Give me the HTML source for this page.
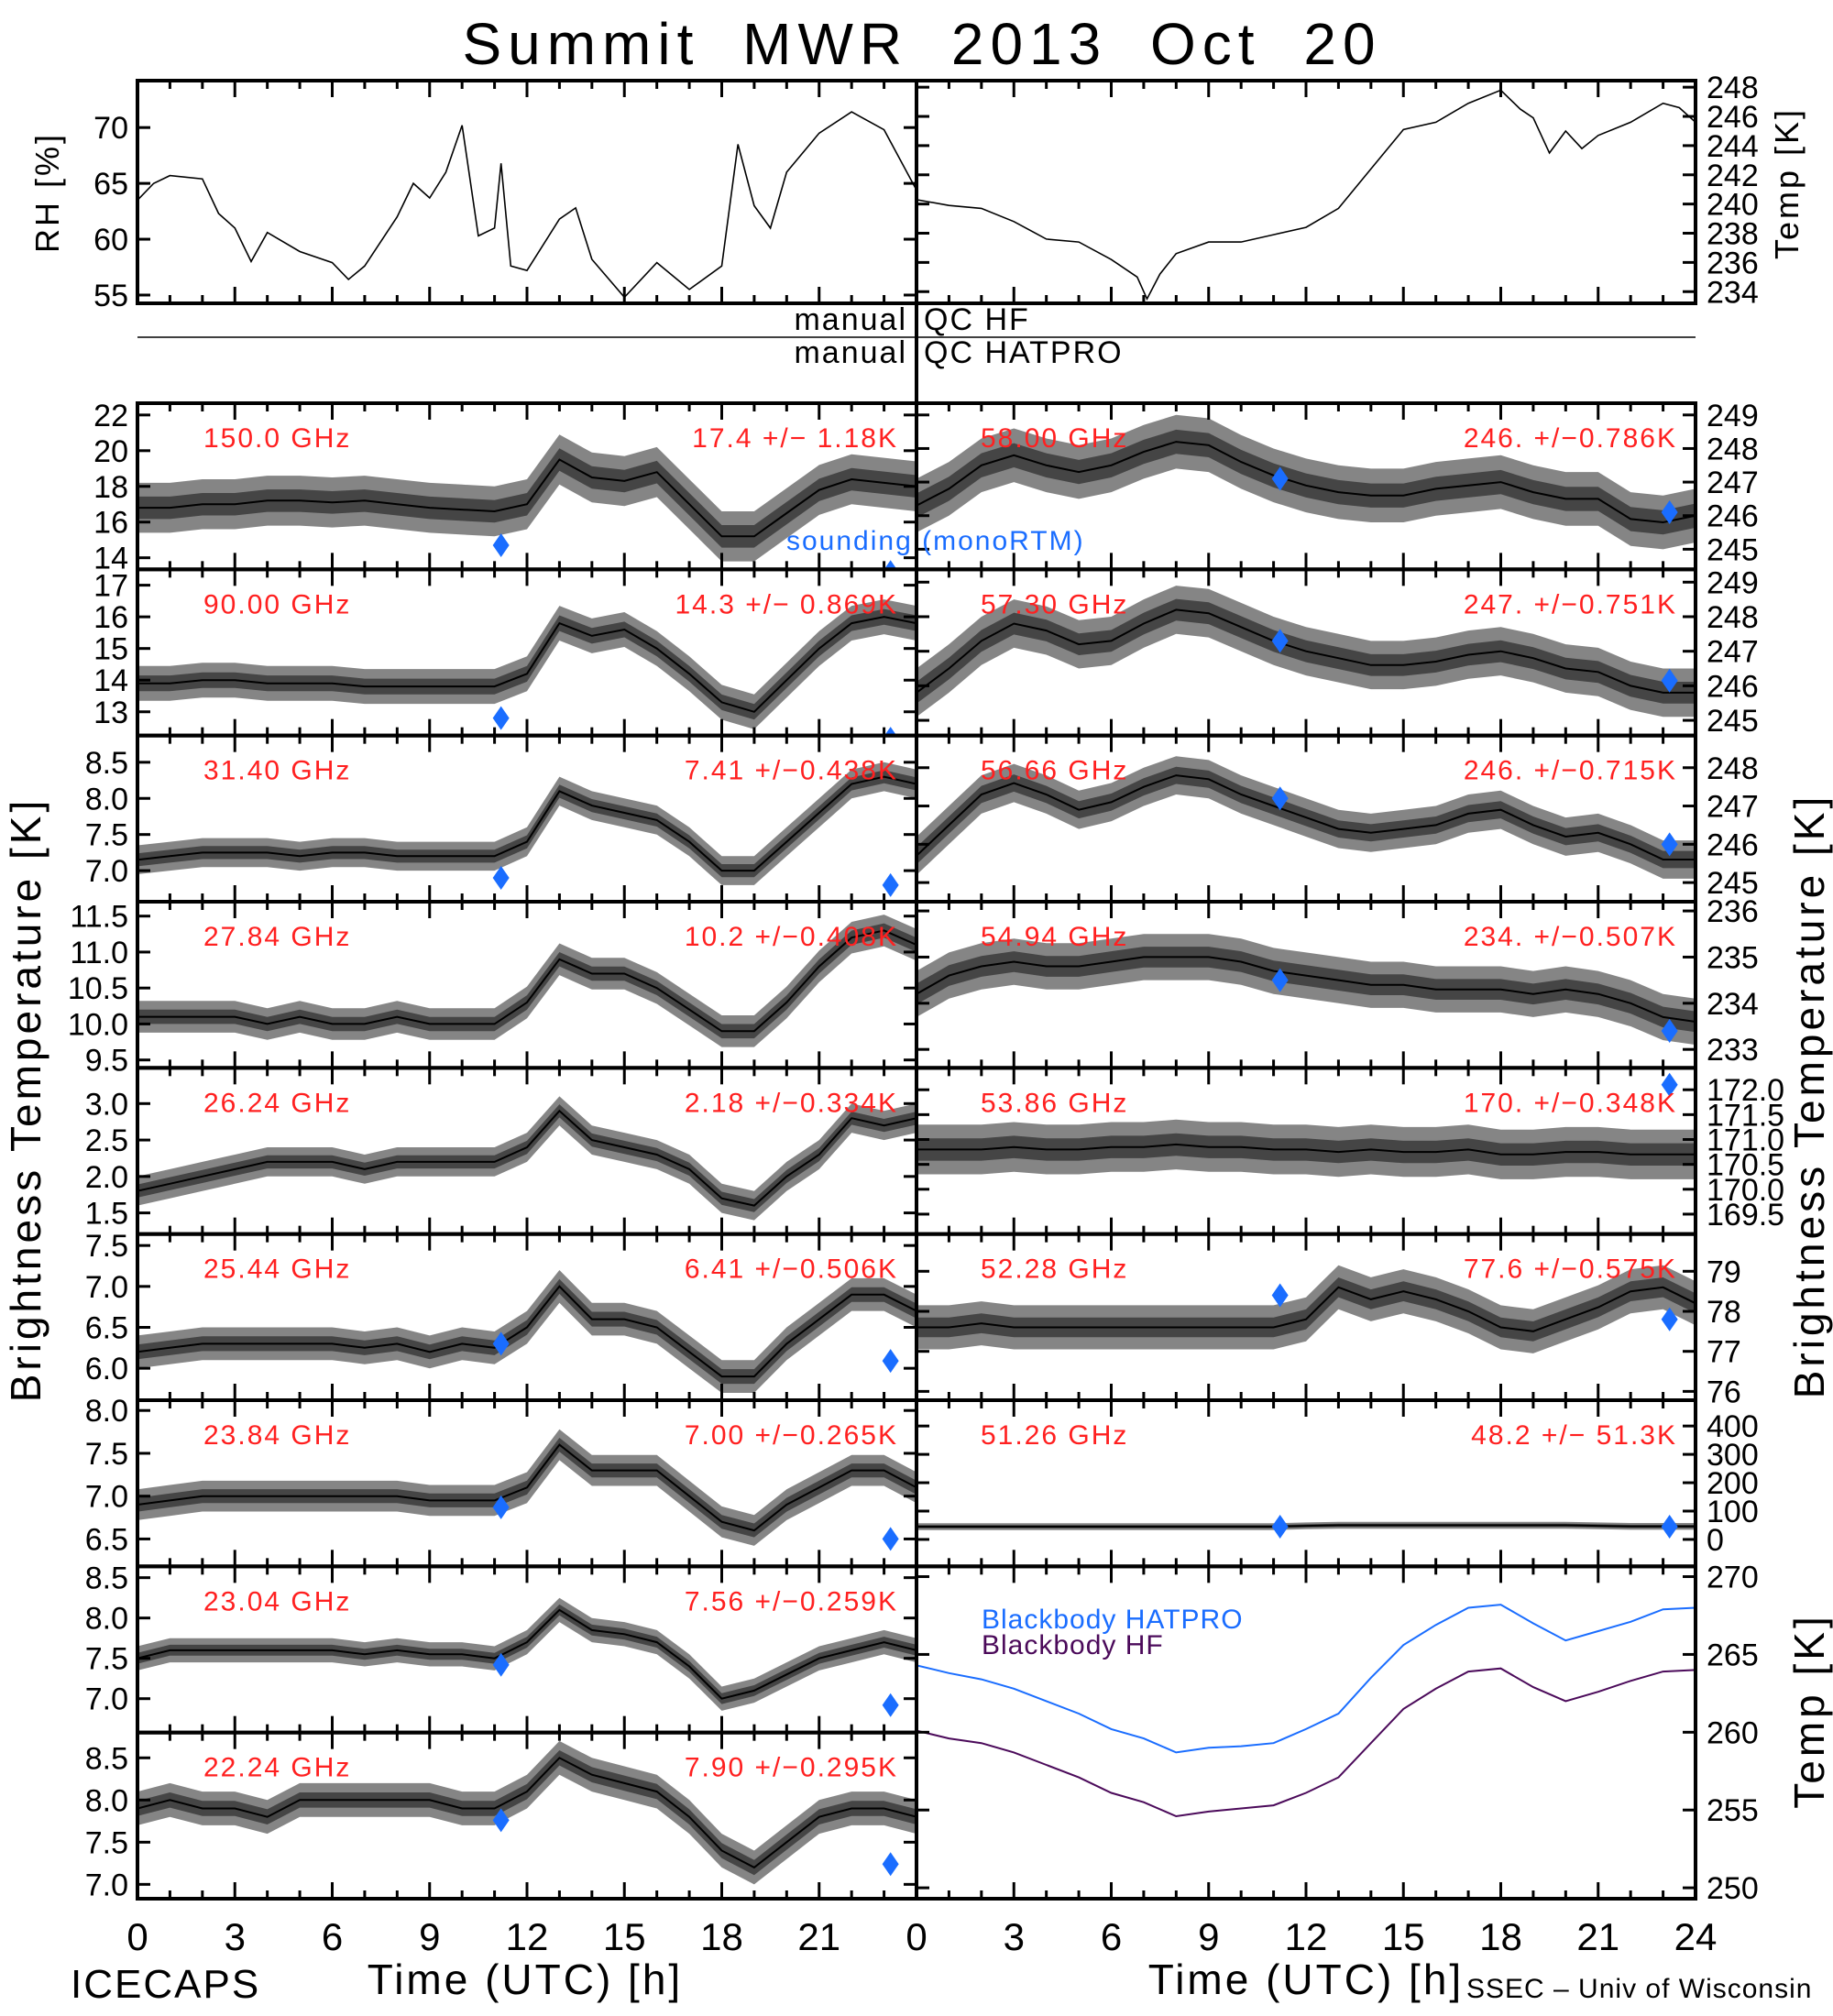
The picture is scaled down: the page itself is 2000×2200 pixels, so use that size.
<!DOCTYPE html>
<html><head><meta charset="utf-8"><style>
html,body{margin:0;padding:0;background:#fff;}
svg{display:block;font-family:"Liberation Sans Narrow","Liberation Sans",sans-serif;}
</style></head><body>
<svg id="chart" width="2000" height="2200" viewBox="0 0 2000 2200" xmlns="http://www.w3.org/2000/svg">
<text x="1006" y="70" font-size="64" text-anchor="middle" letter-spacing="7" word-spacing="22">Summit MWR 2013 Oct 20</text>
<g id="layer"></g>
<line x1="150" x2="1850" y1="368" y2="368" stroke="#000" stroke-width="1.5"/>
<line x1="1000" x2="1000" y1="88" y2="2072" stroke="#000" stroke-width="4"/>
<text x="990" y="360" font-size="34" text-anchor="end" letter-spacing="2">manual</text>
<text x="1008" y="360" font-size="34" letter-spacing="2">QC  HF</text>
<text x="990" y="396" font-size="34" text-anchor="end" letter-spacing="2">manual</text>
<text x="1008" y="396" font-size="34" letter-spacing="2">QC  HATPRO</text>
<text transform="translate(64,210) rotate(-90)" font-size="36" text-anchor="middle" letter-spacing="3">RH  [%]</text>
<text transform="translate(1962,200) rotate(-90)" font-size="36" text-anchor="middle" letter-spacing="3">Temp  [K]</text>
<text transform="translate(44,1200) rotate(-90)" font-size="46" text-anchor="middle" letter-spacing="4">Brightness  Temperature  [K]</text>
<text transform="translate(1990,1196) rotate(-90)" font-size="46" text-anchor="middle" letter-spacing="4">Brightness  Temperature  [K]</text>
<text transform="translate(1990,1867) rotate(-90)" font-size="46" text-anchor="middle" letter-spacing="4">Temp  [K]</text>
<text x="858" y="600" font-size="30" fill="#1a6dff" letter-spacing="2">sounding  (monoRTM)</text>
<text x="1071" y="1777" font-size="30" fill="#1a6dff" letter-spacing="1">Blackbody  HATPRO</text>
<text x="1071" y="1805" font-size="30" fill="#4b0a5a" letter-spacing="1">Blackbody  HF</text>
<text x="573" y="2176" font-size="46" text-anchor="middle" letter-spacing="3">Time  (UTC)  [h]</text>
<text x="1425" y="2176" font-size="46" text-anchor="middle" letter-spacing="3">Time  (UTC)  [h]</text>
<text x="77" y="2180" font-size="44" letter-spacing="2">ICECAPS</text>
<text x="1600" y="2180" font-size="30" letter-spacing="1">SSEC  –  Univ  of  Wisconsin</text>
</svg>
<script>
// ---- data ----
const hours = [0,1,2,3,4,5,6,7,8,9,10,11,12,13,14,15,16,17,18,19,20,21,22,23,24];
const rhTimes = [0,0.5,1,2,2.5,3,3.5,4,5,6,6.5,7,8,8.5,9,9.5,10,10.5,11,11.2,11.5,12,13,13.5,14,15,16,17,18,18.5,19,19.5,20,21,22,23,24];
const rhValues = [63.5,65,65.7,65.4,62.3,61,58,60.6,58.9,57.9,56.4,57.6,62,65,63.7,66,70.2,60.3,61,66.8,57.6,57.2,61.8,62.8,58.2,54.8,57.9,55.5,57.6,68.5,63,61,66,69.5,71.4,69.8,64.4];
const tempTimes = [0,1,2,3,4,5,6,6.8,7.1,7.5,8,9,10,11,12,13,14,15,16,17,18,18.6,19,19.5,20,20.5,21,22,23,23.5,24];
const tempValues = [240.3,239.9,239.7,238.8,237.6,237.4,236.2,235,233.5,235.2,236.6,237.4,237.4,237.9,238.4,239.7,242.4,245.1,245.6,246.9,247.8,246.5,245.9,243.5,245,243.8,244.7,245.6,246.9,246.6,245.6];
const bbHatpro = [264.3,263.8,263.4,262.8,262.0,261.2,260.2,259.6,258.7,259.0,259.1,259.3,260.2,261.2,263.5,265.6,266.9,268.0,268.2,267.0,265.9,266.5,267.1,267.9,268.0];
const bbHF = [260.1,259.6,259.3,258.7,257.9,257.1,256.1,255.5,254.6,254.9,255.1,255.3,256.1,257.1,259.3,261.5,262.8,263.9,264.1,262.9,262.0,262.6,263.3,263.9,264.0];
const soundTimes = [11.2,23.2];

const leftFreqs = ["150.0 GHz","90.00 GHz","31.40 GHz","27.84 GHz","26.24 GHz","25.44 GHz","23.84 GHz","23.04 GHz","22.24 GHz"];
const leftStats = ["17.4 +/−  1.18K","14.3 +/− 0.869K","7.41 +/−0.438K","10.2 +/−0.408K","2.18 +/−0.334K","6.41 +/−0.506K","7.00 +/−0.265K","7.56 +/−0.259K","7.90 +/−0.295K"];
const leftRanges = [[13.35,22.66],[12.25,17.5],[6.57,8.87],[9.39,11.7],[1.21,3.49],[5.61,7.64],[6.18,8.12],[6.58,8.64],[6.83,8.8]];
const leftTicks = [[14,16,18,20,22],[13,14,15,16,17],[7.0,7.5,8.0,8.5],[9.5,10.0,10.5,11.0,11.5],[1.5,2.0,2.5,3.0],[6.0,6.5,7.0,7.5],[6.5,7.0,7.5,8.0],[7.0,7.5,8.0,8.5],[7.0,7.5,8.0,8.5]];
const leftDigits = [0,0,1,1,1,1,1,1,1];
const leftSpread = [1.4,0.55,0.2,0.22,0.2,0.2,0.18,0.15,0.2];
const ch150 = [16.8,16.8,17,17,17.2,17.2,17.1,17.2,17,16.8,16.7,16.6,17,19.5,18.5,18.3,18.8,17,15.2,15.2,16.5,17.8,18.4,18.2,18];
const ch90 = [13.9,13.9,14,14,13.9,13.9,13.9,13.8,13.8,13.8,13.8,13.8,14.2,15.8,15.4,15.6,15,14.2,13.3,13,14,15,15.8,16,15.8];
const ch3140 = [7.15,7.2,7.25,7.25,7.25,7.2,7.25,7.25,7.2,7.2,7.2,7.2,7.4,8.1,7.9,7.8,7.7,7.4,7.0,7.0,7.4,7.8,8.2,8.3,8.2];
const ch2784 = [10.1,10.1,10.1,10.1,10.0,10.1,10.0,10.0,10.1,10.0,10.0,10.0,10.3,10.9,10.7,10.7,10.5,10.2,9.9,9.9,10.3,10.8,11.2,11.3,11.1];
const ch2624 = [1.8,1.9,2.0,2.1,2.2,2.2,2.2,2.1,2.2,2.2,2.2,2.2,2.4,2.9,2.5,2.4,2.3,2.1,1.7,1.6,2.0,2.3,2.8,2.7,2.8];
const ch2544 = [6.2,6.25,6.3,6.3,6.3,6.3,6.3,6.25,6.3,6.2,6.3,6.25,6.5,7.0,6.6,6.6,6.5,6.2,5.9,5.9,6.3,6.6,6.9,6.9,6.7];
const ch2384 = [6.9,6.95,7.0,7.0,7.0,7.0,7.0,7.0,7.0,6.95,6.95,6.95,7.1,7.6,7.3,7.3,7.3,7.0,6.7,6.6,6.9,7.1,7.3,7.3,7.1];
const ch2304 = [7.5,7.6,7.6,7.6,7.6,7.6,7.6,7.55,7.6,7.55,7.55,7.5,7.7,8.1,7.85,7.8,7.7,7.4,7.0,7.1,7.3,7.5,7.6,7.7,7.6];
const ch2224 = [7.9,8.0,7.9,7.9,7.8,8.0,8.0,8.0,8.0,8.0,7.9,7.9,8.1,8.5,8.3,8.2,8.1,7.8,7.4,7.2,7.5,7.8,7.9,7.9,7.8];
const leftSeries = [ch150,ch90,ch3140,ch2784,ch2624,ch2544,ch2384,ch2304,ch2224];
const leftSound = [[14.7,13.2],[12.8,12.15],[6.9,6.8],[9.2,9.2],[1.0,1.0],[6.3,6.09],[6.87,6.5],[7.42,6.92],[7.76,7.24]];

const rightFreqs = ["58.00 GHz","57.30 GHz","56.66 GHz","54.94 GHz","53.86 GHz","52.28 GHz","51.26 GHz"];
const rightStats = ["246. +/−0.786K","247. +/−0.751K","246. +/−0.715K","234. +/−0.507K","170. +/−0.348K","77.6 +/−0.575K","48.2 +/−  51.3K"];
const rightRanges = [[244.4,249.35],[244.56,249.37],[244.5,248.84],[232.6,236.2],[169.1,172.44],[75.78,79.93],[-95,491]];
const rightTicks = [[245,246,247,248,249],[245,246,247,248,249],[245,246,247,248],[233,234,235,236],[169.5,170.0,170.5,171.0,171.5,172.0],[76,77,78,79],[0,100,200,300,400]];
const rightDigits = [0,0,0,0,1,0,0];
const rightSpread = [0.8,0.7,0.5,0.5,0.5,0.55,12];
const ch5800 = [246.3,246.8,247.5,247.8,247.5,247.3,247.5,247.9,248.2,248.1,247.6,247.2,246.9,246.7,246.6,246.6,246.8,246.9,247,246.7,246.5,246.5,245.9,245.8,246];
const ch5730 = [245.8,246.5,247.3,247.8,247.6,247.2,247.3,247.8,248.2,248.1,247.7,247.3,247,246.8,246.6,246.6,246.7,246.9,247,246.8,246.5,246.4,246,245.8,245.8];
const ch5666 = [245.7,246.5,247.3,247.6,247.3,246.9,247.1,247.5,247.8,247.7,247.3,247,246.7,246.4,246.3,246.4,246.5,246.8,246.9,246.5,246.2,246.3,246,245.6,245.6];
const ch5494 = [234.2,234.6,234.8,234.9,234.8,234.8,234.9,235.0,235.0,235.0,234.9,234.7,234.6,234.5,234.4,234.4,234.3,234.3,234.3,234.2,234.3,234.2,234.0,233.7,233.6];
const ch5386 = [170.8,170.8,170.8,170.85,170.8,170.8,170.85,170.85,170.9,170.85,170.85,170.8,170.8,170.75,170.8,170.75,170.75,170.8,170.7,170.7,170.75,170.75,170.7,170.7,170.7];
const ch5228 = [77.6,77.6,77.7,77.6,77.6,77.6,77.6,77.6,77.6,77.6,77.6,77.6,77.8,78.6,78.3,78.5,78.3,78.0,77.6,77.5,77.8,78.1,78.5,78.6,78.2];
const ch5126 = [45,45,45,45,45,45,45,45,45,45,45,45,48,50,50,50,50,50,50,50,50,48,46,46,46];
const rightSeries = [ch5800,ch5730,ch5666,ch5494,ch5386,ch5228,ch5126];
const rightSound = [[247.1,246.1],[247.3,246.15],[247.2,246.0],[234.5,233.4],[168.0,172.1],[78.4,77.8],[45,45]];
const bbTicks = [250,255,260,265,270];
const rhTicks = [55,60,65,70];
const tempTicks = [234,236,238,240,242,244,246,248];

// ---- layout ----
const NS = "http://www.w3.org/2000/svg";
const layer = document.getElementById('layer');
const LX0 = 150, LX1 = 1000, RX0 = 1000, RX1 = 1850;
const PT = 440, PH = (2072 - 440) / 9;
let clipId = 0;
function mk(tag, attrs, parent) {
  const e = document.createElementNS(NS, tag);
  for (const k in attrs) e.setAttribute(k, attrs[k]);
  (parent || layer).appendChild(e);
  return e;
}
function xScale(x0, x1) { return h => x0 + h / 24 * (x1 - x0); }
function yScale(y0, y1, lo, hi) { return v => y1 - (v - lo) / (hi - lo) * (y1 - y0); }

function frame(g, x0, x1, y0, y1, ticks, ys, labelSide, digits) {
  for (let h = 0; h <= 24; h++) {
    const X = x0 + h / 24 * (x1 - x0);
    const L = h % 3 === 0 ? 18 : 9;
    const t1 = mk('line', {x1: X, x2: X, y1: y1, y2: y1 - L, stroke: '#000', 'stroke-width': 3}, g);
    
    
    const t2 = mk('line', {x1: X, x2: X, y1: y0, y2: y0 + L, stroke: '#000', 'stroke-width': 3}, g);
    
    
  }
  ticks.forEach(v => {
    const Y = ys(v);
    const a = mk('line', {x1: x0, x2: x0 + 14, y1: Y, y2: Y, stroke: '#000', 'stroke-width': 3}, g);
    
    
    const b = mk('line', {x1: x1, x2: x1 - 14, y1: Y, y2: Y, stroke: '#000', 'stroke-width': 3}, g);
    
    
    if (labelSide) {
      const tx = mk('text', {x: labelSide === 'left' ? x0 - 10 : x1 + 12, y: Y + 12, 'font-size': 34,
        'text-anchor': labelSide === 'left' ? 'end' : 'start'}, g);
      
      
      tx.textContent = v.toFixed(digits);
    }
  });
  const r = mk('rect', {x: x0, y: y0, width: x1 - x0, height: y1 - y0, fill: 'none', stroke: '#000', 'stroke-width': 4}, g);
  
  
}
function clipFor(g, x0, x1, y0, y1) {
  const id = 'c' + (clipId++);
  const cp = mk('clipPath', {id: id}, g);
  mk('rect', {x: x0, y: y0, width: x1 - x0, height: y1 - y0}, cp);
  return mk('g', {'clip-path': 'url(#' + id + ')'}, g);
}
function linePath(ts, vs, xs, ys) {
  return ts.map((t, i) => (i ? 'L' : 'M') + xs(t).toFixed(1) + ',' + ys(vs[i]).toFixed(1)).join('');
}
function channel(name, x0, x1, y0, y1, range, ticks, digits, series, spread, sound, freq, stat, side) {
  const g = mk('g', {});
  
  
  const xs = xScale(x0, x1), ys = yScale(y0, y1, range[0], range[1]);
  const c = clipFor(g, x0, x1, y0, y1);
  const up = hours.map((h, i) => xs(h).toFixed(1) + ',' + ys(series[i] + spread).toFixed(1));
  const dn = hours.map((h, i) => xs(h).toFixed(1) + ',' + ys(series[i] - spread).toFixed(1)).reverse();
  const band = mk('polygon', {points: up.concat(dn).join(' '), fill: '#333', 'fill-opacity': 0.6}, c);
  
  
  const up2 = hours.map((h, i) => xs(h).toFixed(1) + ',' + ys(series[i] + spread * 0.45).toFixed(1));
  const dn2 = hours.map((h, i) => xs(h).toFixed(1) + ',' + ys(series[i] - spread * 0.45).toFixed(1)).reverse();
  const core = mk('polygon', {points: up2.concat(dn2).join(' '), fill: '#111', 'fill-opacity': 0.55}, c);
  
  
  const ln = mk('path', {d: linePath(hours, series, xs, ys), fill: 'none', stroke: '#000', 'stroke-width': 2}, c);
  
  
  soundTimes.forEach((t, i) => {
    const X = xs(t), Y = ys(sound[i]);
    const d = mk('polygon', {points: `${X},${Y - 13} ${X + 9},${Y} ${X},${Y + 13} ${X - 9},${Y}`, fill: '#1a6dff'}, c);
    
    
  });
  frame(g, x0, x1, y0, y1, ticks, ys, side, digits);
  const f = mk('text', {x: x0 + (side === 'left' ? 72 : 70), y: y0 + 48, 'font-size': 30, fill: '#ff2020', 'letter-spacing': 2}, g);
  
  
  f.textContent = freq;
  const s = mk('text', {x: x1 - 20, y: y0 + 48, 'font-size': 30, fill: '#ff2020', 'text-anchor': 'end', 'letter-spacing': 2}, g);
  
  
  s.textContent = stat;
}
(function () {
  const g = mk('g', {});
  
  
  const xs = xScale(LX0, LX1), ys = yScale(88, 331, 54.26, 74.2);
  const c = clipFor(g, LX0, LX1, 88, 331);
  const p = mk('path', {d: linePath(rhTimes, rhValues, xs, ys), fill: 'none', stroke: '#000', 'stroke-width': 1.6}, c);
  
  
  frame(g, LX0, LX1, 88, 331, rhTicks, ys, 'left', 0);
  const g2 = mk('g', {});
  
  
  const xs2 = xScale(RX0, RX1), ys2 = yScale(88, 331, 233.2, 248.45);
  const c2 = clipFor(g2, RX0, RX1, 88, 331);
  const p2 = mk('path', {d: linePath(tempTimes, tempValues, xs2, ys2), fill: 'none', stroke: '#000', 'stroke-width': 1.6}, c2);
  
  
  frame(g2, RX0, RX1, 88, 331, tempTicks, ys2, 'right', 0);
})();
leftSeries.forEach((s, i) => {
  const y0 = PT + i * PH;
  channel('left-channel-' + i, LX0, LX1, y0, y0 + PH, leftRanges[i], leftTicks[i], leftDigits[i], s, leftSpread[i], leftSound[i], leftFreqs[i], leftStats[i], 'left');
});
rightSeries.forEach((s, i) => {
  const y0 = PT + i * PH;
  channel('right-channel-' + i, RX0, RX1, y0, y0 + PH, rightRanges[i], rightTicks[i], rightDigits[i], s, rightSpread[i], rightSound[i], rightFreqs[i], rightStats[i], 'right');
});
(function () {
  const y0 = PT + 7 * PH, y1 = 2072;
  const g = mk('g', {});
  
  
  const xs = xScale(RX0, RX1), ys = yScale(y0, y1, 249.3, 270.66);
  const c = clipFor(g, RX0, RX1, y0, y1);
  const a = mk('path', {d: linePath(hours, bbHatpro, xs, ys), fill: 'none', stroke: '#1a6dff', 'stroke-width': 2}, c);
  
  
  const b = mk('path', {d: linePath(hours, bbHF, xs, ys), fill: 'none', stroke: '#4b0a5a', 'stroke-width': 2}, c);
  
  
  frame(g, RX0, RX1, y0, y1, bbTicks, ys, 'right', 0);
})();
[[LX0, LX1, [0,3,6,9,12,15,18,21]], [RX0, RX1, [0,3,6,9,12,15,18,21,24]]].forEach(([x0, x1, labs]) => {
  labs.forEach(h => {
    const t = mk('text', {x: x0 + h / 24 * (x1 - x0), y: 2128, 'font-size': 42, 'text-anchor': 'middle'});
    
    
    t.textContent = h;
  });
});
</script>
</body></html>
